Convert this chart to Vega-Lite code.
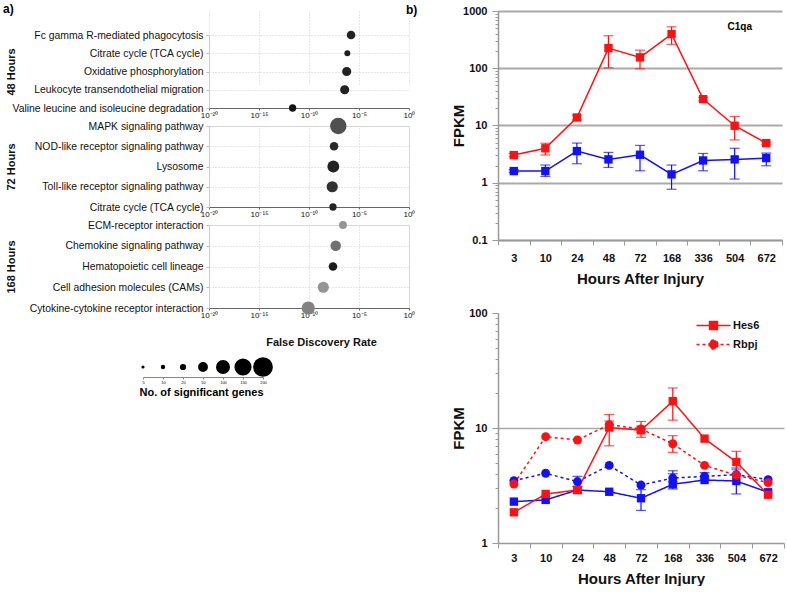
{
  "$schema": "https://vega.github.io/schema/vega-lite/v6.json",
  "padding": {"left": 3, "top": 3, "right": 2, "bottom": 0},
  "background": "white",
  "config": {
    "font": "Liberation Sans",
    "view": {"stroke": null},
    "title": {"font": "Liberation Sans", "color": "#000"}
  },
  "datasets": {
    "kegg": [
      {"timepoint": "48 Hours", "pathway": "Fc gamma R-mediated phagocytosis", "fdr": 1.6e-6, "genes": 38, "shade": 0.16},
      {"timepoint": "48 Hours", "pathway": "Citrate cycle (TCA cycle)", "fdr": 6.8e-7, "genes": 18, "shade": 0.14},
      {"timepoint": "48 Hours", "pathway": "Oxidative phosphorylation", "fdr": 5.9e-7, "genes": 43, "shade": 0.16},
      {"timepoint": "48 Hours", "pathway": "Leukocyte transendothelial migration", "fdr": 3.7e-7, "genes": 43, "shade": 0.16},
      {"timepoint": "48 Hours", "pathway": "Valine leucine and isoleucine degradation", "fdr": 2.3e-12, "genes": 27, "shade": 0.08},
      {"timepoint": "72 Hours", "pathway": "MAPK signaling pathway", "fdr": 8.5e-8, "genes": 139, "shade": 0.41},
      {"timepoint": "72 Hours", "pathway": "NOD-like receptor signaling pathway", "fdr": 3.2e-8, "genes": 38, "shade": 0.2},
      {"timepoint": "72 Hours", "pathway": "Lysosome", "fdr": 2.7e-8, "genes": 72, "shade": 0.16},
      {"timepoint": "72 Hours", "pathway": "Toll-like receptor signaling pathway", "fdr": 2.1e-8, "genes": 64, "shade": 0.25},
      {"timepoint": "72 Hours", "pathway": "Citrate cycle (TCA cycle)", "fdr": 2.5e-8, "genes": 27, "shade": 0.16},
      {"timepoint": "168 Hours", "pathway": "ECM-receptor interaction", "fdr": 2.5e-7, "genes": 32, "shade": 0.74},
      {"timepoint": "168 Hours", "pathway": "Chemokine signaling pathway", "fdr": 4.7e-8, "genes": 57, "shade": 0.57},
      {"timepoint": "168 Hours", "pathway": "Hematopoietic cell lineage", "fdr": 2.5e-8, "genes": 38, "shade": 0.12},
      {"timepoint": "168 Hours", "pathway": "Cell adhesion molecules (CAMs)", "fdr": 2.7e-9, "genes": 64, "shade": 0.74},
      {"timepoint": "168 Hours", "pathway": "Cytokine-cytokine receptor interaction", "fdr": 8.5e-11, "genes": 89, "shade": 0.65}
    ],
    "sizes": [
      {"genes": 5}, {"genes": 10}, {"genes": 20}, {"genes": 50}, {"genes": 100}, {"genes": 150}, {"genes": 200}
    ],
    "c1qa": [
      {"hour": "3", "cond": "Uninjured", "fpkm": 1.6, "lo": 1.52, "hi": 1.7},
      {"hour": "10", "cond": "Uninjured", "fpkm": 1.6, "lo": 1.29, "hi": 2.04},
      {"hour": "24", "cond": "Uninjured", "fpkm": 3.57, "lo": 2.15, "hi": 4.93},
      {"hour": "48", "cond": "Uninjured", "fpkm": 2.56, "lo": 1.85, "hi": 3.39},
      {"hour": "72", "cond": "Uninjured", "fpkm": 3.08, "lo": 1.62, "hi": 4.49},
      {"hour": "168", "cond": "Uninjured", "fpkm": 1.4, "lo": 0.77, "hi": 2.04},
      {"hour": "336", "cond": "Uninjured", "fpkm": 2.45, "lo": 1.62, "hi": 3.25},
      {"hour": "504", "cond": "Uninjured", "fpkm": 2.56, "lo": 1.16, "hi": 4.0},
      {"hour": "672", "cond": "Uninjured", "fpkm": 2.7, "lo": 1.98, "hi": 3.3},
      {"hour": "3", "cond": "Injured", "fpkm": 3.04, "lo": 2.85, "hi": 3.25},
      {"hour": "10", "cond": "Injured", "fpkm": 4.0, "lo": 3.05, "hi": 4.9},
      {"hour": "24", "cond": "Injured", "fpkm": 13.8, "lo": 12.5, "hi": 15.2},
      {"hour": "48", "cond": "Injured", "fpkm": 225, "lo": 102, "hi": 370},
      {"hour": "72", "cond": "Injured", "fpkm": 155, "lo": 98, "hi": 207},
      {"hour": "168", "cond": "Injured", "fpkm": 395, "lo": 262, "hi": 530},
      {"hour": "336", "cond": "Injured", "fpkm": 28.9, "lo": 27, "hi": 31},
      {"hour": "504", "cond": "Injured", "fpkm": 9.9, "lo": 5.6, "hi": 14.4},
      {"hour": "672", "cond": "Injured", "fpkm": 4.93, "lo": 4.7, "hi": 5.2}
    ],
    "notch": [
      {"gene": "Hes6", "cond": "Uninjured", "hour": "3", "fpkm": 2.29, "lo": null, "hi": null},
      {"gene": "Hes6", "cond": "Uninjured", "hour": "10", "fpkm": 2.37, "lo": null, "hi": null},
      {"gene": "Hes6", "cond": "Uninjured", "hour": "24", "fpkm": 2.89, "lo": null, "hi": null},
      {"gene": "Hes6", "cond": "Uninjured", "hour": "48", "fpkm": 2.79, "lo": null, "hi": null},
      {"gene": "Hes6", "cond": "Uninjured", "hour": "72", "fpkm": 2.45, "lo": 1.92, "hi": 2.91},
      {"gene": "Hes6", "cond": "Uninjured", "hour": "168", "fpkm": 3.24, "lo": 2.95, "hi": 4.25},
      {"gene": "Hes6", "cond": "Uninjured", "hour": "336", "fpkm": 3.53, "lo": null, "hi": null},
      {"gene": "Hes6", "cond": "Uninjured", "hour": "504", "fpkm": 3.46, "lo": 2.67, "hi": 4.49},
      {"gene": "Hes6", "cond": "Uninjured", "hour": "672", "fpkm": 2.76, "lo": null, "hi": null},
      {"gene": "Rbpj", "cond": "Uninjured", "hour": "3", "fpkm": 3.48, "lo": null, "hi": null},
      {"gene": "Rbpj", "cond": "Uninjured", "hour": "10", "fpkm": 4.04, "lo": null, "hi": null},
      {"gene": "Rbpj", "cond": "Uninjured", "hour": "24", "fpkm": 3.42, "lo": 3.1, "hi": 3.8},
      {"gene": "Rbpj", "cond": "Uninjured", "hour": "48", "fpkm": 4.73, "lo": null, "hi": null},
      {"gene": "Rbpj", "cond": "Uninjured", "hour": "72", "fpkm": 3.19, "lo": null, "hi": null},
      {"gene": "Rbpj", "cond": "Uninjured", "hour": "168", "fpkm": 3.67, "lo": 3.4, "hi": 4.0},
      {"gene": "Rbpj", "cond": "Uninjured", "hour": "336", "fpkm": 3.8, "lo": 3.6, "hi": 4.1},
      {"gene": "Rbpj", "cond": "Uninjured", "hour": "504", "fpkm": 3.93, "lo": null, "hi": null},
      {"gene": "Rbpj", "cond": "Uninjured", "hour": "672", "fpkm": 3.55, "lo": null, "hi": null},
      {"gene": "Hes6", "cond": "Injured", "hour": "3", "fpkm": 1.85, "lo": null, "hi": null},
      {"gene": "Hes6", "cond": "Injured", "hour": "10", "fpkm": 2.67, "lo": null, "hi": null},
      {"gene": "Hes6", "cond": "Injured", "hour": "24", "fpkm": 2.89, "lo": 2.7, "hi": 3.1},
      {"gene": "Hes6", "cond": "Injured", "hour": "48", "fpkm": 10.1, "lo": 7.0, "hi": 13.1},
      {"gene": "Hes6", "cond": "Injured", "hour": "72", "fpkm": 9.55, "lo": 8.3, "hi": 11.4},
      {"gene": "Hes6", "cond": "Injured", "hour": "168", "fpkm": 17.1, "lo": 11.7, "hi": 22.3},
      {"gene": "Hes6", "cond": "Injured", "hour": "336", "fpkm": 8.08, "lo": null, "hi": null},
      {"gene": "Hes6", "cond": "Injured", "hour": "504", "fpkm": 5.06, "lo": 4.34, "hi": 6.27},
      {"gene": "Hes6", "cond": "Injured", "hour": "672", "fpkm": 2.63, "lo": null, "hi": null},
      {"gene": "Rbpj", "cond": "Injured", "hour": "3", "fpkm": 3.26, "lo": null, "hi": null},
      {"gene": "Rbpj", "cond": "Injured", "hour": "10", "fpkm": 8.4, "lo": null, "hi": null},
      {"gene": "Rbpj", "cond": "Injured", "hour": "24", "fpkm": 7.87, "lo": null, "hi": null},
      {"gene": "Rbpj", "cond": "Injured", "hour": "48", "fpkm": 10.7, "lo": 10.0, "hi": 11.5},
      {"gene": "Rbpj", "cond": "Injured", "hour": "72", "fpkm": 9.8, "lo": 9.2, "hi": 10.4},
      {"gene": "Rbpj", "cond": "Injured", "hour": "168", "fpkm": 7.3, "lo": 6.14, "hi": 8.58},
      {"gene": "Rbpj", "cond": "Injured", "hour": "336", "fpkm": 4.73, "lo": null, "hi": null},
      {"gene": "Rbpj", "cond": "Injured", "hour": "504", "fpkm": 3.88, "lo": null, "hi": null},
      {"gene": "Rbpj", "cond": "Injured", "hour": "672", "fpkm": 3.35, "lo": null, "hi": null}
    ]
  },
  "columns": 2,
  "align": "none",
  "spacing": {"column": -10, "row": 0},
  "resolve": {"scale": {"color": "independent", "size": "independent", "shape": "independent", "strokeDash": "independent"}},
  "concat": [
    {
      "spacing": 9,
      "resolve": {"scale": {"color": "independent", "size": "independent"}},
      "vconcat": [
        {
          "spacing": 18,
          "bounds": "flush",
          "resolve": {"scale": {"color": "independent", "size": "independent"}},
          "vconcat": [
            {
              "width": 200, "height": 97,
              "title": {"text": "a)", "anchor": "start", "frame": "bounds", "fontSize": 12, "fontWeight": "bold", "offset": -5, "dx": -2},
              "data": {"name": "kegg"},
              "transform": [{"filter": "datum.timepoint === '48 Hours'"}],
              "mark": {"type": "circle", "opacity": 1},
              "encoding": {
                "x": {"field": "fdr", "type": "quantitative", "scale": {"type": "log", "domain": [1e-20, 1], "nice": false},
                  "axis": {"title": null, "values": [1e-20, 1e-15, 1e-10, 1e-5, 1], "labelExpr": "datum.value < 1e-17 ? '10⁻²⁰' : datum.value < 1e-12 ? '10⁻¹⁵' : datum.value < 1e-7 ? '10⁻¹⁰' : datum.value < 1e-2 ? '10⁻⁵' : '10⁰'", "labelFontSize": 8, "labelColor": "#111", "labelFlush": false, "labelPadding": 1, "tickSize": 2, "tickColor": "#666", "domainColor": "#666", "grid": true, "gridColor": "#cfcfcf", "gridDash": [1, 2], "labelAngle": 0}},
                "y": {"field": "pathway", "type": "nominal", "sort": null, "scale": {"type": "point", "padding": 0, "range": [24, 97]},
                  "axis": {"title": "48 Hours", "titleFontSize": 11, "titleFontWeight": "bold", "titleX": -193, "titleAngle": 270, "titleColor": "#111", "labelFontSize": 10.4, "labelColor": "#111", "labelPadding": 3, "tickSize": 3, "tickColor": "#bbb", "domainColor": "#ccc", "grid": true, "gridColor": "#cfcfcf", "gridDash": [1, 2], "labelLimit": 300}},
                "size": {"field": "genes", "type": "quantitative", "scale": {"domain": [0, 200], "range": [0, 390]}, "legend": null},
                "color": {"field": "shade", "type": "quantitative", "scale": {"domain": [0, 1], "range": ["#000000", "#d0d0d0"]}, "legend": null}
              }
            },
            {
              "width": 200, "height": 81,
              "view": {"stroke": "#dcdcdc"},
              "data": {"name": "kegg"},
              "transform": [{"filter": "datum.timepoint === '72 Hours'"}],
              "mark": {"type": "circle", "opacity": 1},
              "encoding": {
                "x": {"field": "fdr", "type": "quantitative", "scale": {"type": "log", "domain": [1e-20, 1], "nice": false},
                  "axis": {"title": null, "values": [1e-20, 1e-15, 1e-10, 1e-5, 1], "labelExpr": "datum.value < 1e-17 ? '10⁻²⁰' : datum.value < 1e-12 ? '10⁻¹⁵' : datum.value < 1e-7 ? '10⁻¹⁰' : datum.value < 1e-2 ? '10⁻⁵' : '10⁰'", "labelFontSize": 8, "labelColor": "#111", "labelFlush": false, "labelPadding": 1, "tickSize": 2, "tickColor": "#666", "domainColor": "#666", "grid": true, "gridColor": "#cfcfcf", "gridDash": [1, 2], "labelAngle": 0}},
                "y": {"field": "pathway", "type": "nominal", "sort": null, "scale": {"type": "point", "padding": 0},
                  "axis": {"title": "72 Hours", "titleFontSize": 11, "titleFontWeight": "bold", "titleX": -193, "titleAngle": 270, "titleColor": "#111", "labelFontSize": 10.4, "labelColor": "#111", "labelPadding": 3, "tickSize": 3, "tickColor": "#bbb", "domainColor": "#ccc", "grid": true, "gridColor": "#cfcfcf", "gridDash": [1, 2], "labelLimit": 300}},
                "size": {"field": "genes", "type": "quantitative", "scale": {"domain": [0, 200], "range": [0, 390]}, "legend": null},
                "color": {"field": "shade", "type": "quantitative", "scale": {"domain": [0, 1], "range": ["#000000", "#d0d0d0"]}, "legend": null}
              }
            },
            {
              "width": 200, "height": 83,
              "view": {"stroke": "#dcdcdc"},
              "data": {"name": "kegg"},
              "transform": [{"filter": "datum.timepoint === '168 Hours'"}],
              "mark": {"type": "circle", "opacity": 1},
              "encoding": {
                "x": {"field": "fdr", "type": "quantitative", "scale": {"type": "log", "domain": [1e-20, 1], "nice": false},
                  "axis": {"title": "False Discovery Rate", "titleFontSize": 11, "titleFontWeight": "bold", "titleColor": "#111", "titleX": 112, "titlePadding": 17, "values": [1e-20, 1e-15, 1e-10, 1e-5, 1], "labelExpr": "datum.value < 1e-17 ? '10⁻²⁰' : datum.value < 1e-12 ? '10⁻¹⁵' : datum.value < 1e-7 ? '10⁻¹⁰' : datum.value < 1e-2 ? '10⁻⁵' : '10⁰'", "labelFontSize": 8, "labelColor": "#111", "labelFlush": false, "labelPadding": 1, "tickSize": 2, "tickColor": "#666", "domainColor": "#666", "grid": true, "gridColor": "#cfcfcf", "gridDash": [1, 2], "labelAngle": 0}},
                "y": {"field": "pathway", "type": "nominal", "sort": null, "scale": {"type": "point", "padding": 0},
                  "axis": {"title": "168 Hours", "titleFontSize": 11, "titleFontWeight": "bold", "titleX": -193, "titleAngle": 270, "titleColor": "#111", "labelFontSize": 10.4, "labelColor": "#111", "labelPadding": 3, "tickSize": 3, "tickColor": "#bbb", "domainColor": "#ccc", "grid": true, "gridColor": "#cfcfcf", "gridDash": [1, 2], "labelLimit": 300}},
                "size": {"field": "genes", "type": "quantitative", "scale": {"domain": [0, 200], "range": [0, 390]}, "legend": null},
                "color": {"field": "shade", "type": "quantitative", "scale": {"domain": [0, 1], "range": ["#000000", "#d0d0d0"]}, "legend": null}
              }
            }
          ]
        },
        {
          "width": 120, "height": 20,
          "data": {"name": "sizes"},
          "mark": {"type": "circle", "opacity": 1, "color": "#000"},
          "encoding": {
            "x": {"field": "genes", "type": "ordinal", "sort": null, "scale": {"type": "point", "padding": 0, "range": [-66, 54]},
              "axis": {"title": "No. of significant genes", "titleFontSize": 11, "titleFontWeight": "bold", "titleColor": "#000", "titleAnchor": "start", "titlePadding": 2, "titleX": -70, "labelFontSize": 4, "labelAngle": 0, "labelPadding": 1, "tickSize": 2, "tickColor": "#888", "domainColor": "#888"}},
            "size": {"field": "genes", "type": "quantitative", "scale": {"domain": [0, 200], "range": [0, 390]}, "legend": null}
          }
        }
      ]
    },
    {
      "title": {"text": "b)", "anchor": "start", "frame": "bounds", "fontSize": 12, "fontWeight": "bold", "offset": -12, "dx": -45},
      "spacing": 21,
      "resolve": {"scale": {"shape": "independent", "strokeDash": "independent", "color": "independent"}},
      "vconcat": [
        {
          "width": 284, "height": 229,
          "title": {"text": "C1qa", "anchor": "end", "frame": "group", "fontSize": 10, "fontWeight": "bold", "offset": -27, "dx": -30},
          "data": {"name": "c1qa"},
          "encoding": {
            "x": {"field": "hour", "type": "ordinal", "sort": ["3", "10", "24", "48", "72", "168", "336", "504", "672"], "bandPosition": 0.5, "scale": {"type": "band", "paddingInner": 0, "paddingOuter": 0},
              "axis": {"title": "Hours After Injury", "titleFontSize": 15, "titleFontWeight": "bold", "titleColor": "#111", "titlePadding": 8, "labelFontSize": 11, "labelFontWeight": "bold", "labelColor": "#111", "labelAngle": 0, "labelPadding": 7, "tickBand": "extent", "tickSize": 5, "tickColor": "#999", "domainColor": "#999", "domainWidth": 1.5, "grid": false}}
          },
          "layer": [
            {
              "mark": {"type": "errorbar", "ticks": true, "size": 10, "thickness": 1.2},
              "encoding": {
                "y": {"field": "lo", "type": "quantitative", "scale": {"type": "log", "domain": [0.1, 1000], "nice": false},
                  "axis": {"title": "FPKM", "titleFontSize": 15, "titleFontWeight": "bold", "titleColor": "#111", "titleX": -32,
                    "values": [0.1, 0.2, 0.3, 0.4, 0.5, 0.6, 0.7, 0.8, 0.9, 1, 2, 3, 4, 5, 6, 7, 8, 9, 10, 20, 30, 40, 50, 60, 70, 80, 90, 100, 200, 300, 400, 500, 600, 700, 800, 900, 1000],
                    "format": "~g",
                    "labelExpr": "indexof(['0.1','1','10','100','1000'], datum.label) >= 0 ? datum.label : ''",
                    "labelFontSize": 11, "labelFontWeight": "bold", "labelColor": "#111", "labelPadding": 5,
                    "tickColor": "#999", "tickSize": {"condition": {"test": "indexof([0.1, 1, 10, 100, 1000], datum.value) >= 0", "value": 6}, "value": 3},
                    "domainColor": "#999", "domainWidth": 1.5,
                    "grid": true, "gridColor": "#aaaaaa", "gridWidth": 2,
                    "gridOpacity": {"condition": {"test": "indexof([0.1, 1, 10, 100, 1000], datum.value) >= 0", "value": 1}, "value": 0}}},
                "y2": {"field": "hi"},
                "color": {"field": "cond", "type": "nominal", "scale": {"domain": ["Injured", "Uninjured"], "range": ["#ff1111", "#1111ff"]}, "legend": null}
              }
            },
            {
              "mark": {"type": "line", "strokeWidth": 1.5},
              "encoding": {
                "y": {"field": "fpkm", "type": "quantitative"},
                "color": {"field": "cond", "type": "nominal", "legend": null}
              }
            },
            {
              "mark": {"type": "point", "shape": "square", "filled": true, "size": 70, "opacity": 1},
              "encoding": {
                "y": {"field": "fpkm", "type": "quantitative"},
                "color": {"field": "cond", "type": "nominal", "legend": null}
              }
            }
          ]
        },
        {
          "width": 286, "height": 230,
          "data": {"name": "notch"},
          "encoding": {
            "x": {"field": "hour", "type": "ordinal", "sort": ["3", "10", "24", "48", "72", "168", "336", "504", "672"], "bandPosition": 0.5, "scale": {"type": "band", "paddingInner": 0, "paddingOuter": 0, "domain": ["3", "10", "24", "48", "72", "168", "336", "504", "672"]},
              "axis": {"title": "Hours After Injury", "titleFontSize": 15, "titleFontWeight": "bold", "titleColor": "#111", "titlePadding": 8, "labelFontSize": 11, "labelFontWeight": "bold", "labelColor": "#111", "labelAngle": 0, "labelPadding": 4, "tickBand": "extent", "tickSize": 5, "tickColor": "#999", "domainColor": "#999", "domainWidth": 1.5, "grid": false}}
          },
          "layer": [
            {
              "transform": [{"filter": "datum.lo != null"}],
              "mark": {"type": "errorbar", "ticks": true, "size": 10, "thickness": 1.2},
              "encoding": {
                "y": {"field": "lo", "type": "quantitative", "scale": {"type": "log", "domain": [1, 100], "nice": false},
                  "axis": {"title": "FPKM", "titleFontSize": 15, "titleFontWeight": "bold", "titleColor": "#111", "titleX": -32,
                    "values": [1, 2, 3, 4, 5, 6, 7, 8, 9, 10, 20, 30, 40, 50, 60, 70, 80, 90, 100],
                    "format": "~g",
                    "labelExpr": "indexof(['1','10','100'], datum.label) >= 0 ? datum.label : ''",
                    "labelFontSize": 11, "labelFontWeight": "bold", "labelColor": "#111", "labelPadding": 5,
                    "tickColor": "#999", "tickSize": {"condition": {"test": "indexof([1, 10, 100], datum.value) >= 0", "value": 6}, "value": 3},
                    "domainColor": "#999", "domainWidth": 1.5,
                    "grid": true, "gridColor": "#aaaaaa", "gridWidth": 1.5,
                    "gridOpacity": {"condition": {"test": "datum.value === 10", "value": 1}, "value": 0}}},
                "y2": {"field": "hi"},
                "color": {"field": "cond", "type": "nominal", "scale": {"domain": ["Injured", "Uninjured"], "range": ["#ff1111", "#1111ff"]}, "legend": null}
              }
            },
            {
              "mark": {"type": "line", "strokeWidth": 1.5},
              "encoding": {
                "y": {"field": "fpkm", "type": "quantitative"},
                "color": {"field": "cond", "type": "nominal", "legend": null},
                "strokeDash": {"field": "gene", "type": "nominal", "scale": {"domain": ["Hes6", "Rbpj"], "range": [[1, 0], [3, 3]]},
                  "legend": {"title": null, "orient": "none", "legendX": 206, "legendY": 3, "padding": 0, "labelFontSize": 11, "labelFontWeight": "bold", "labelColor": "#111", "labelOffset": 10, "rowPadding": 2, "symbolSize": 289, "symbolStrokeWidth": 1.5, "symbolStrokeColor": "#ff1111", "symbolFillColor": "#ff1111",
                    "encode": {"symbols": {"update": {
                      "shape": {"signal": "datum.value === 'Hes6' ? 'M-2,0H2M-0.47,-0.47H0.47V0.47H-0.47Z' : 'M-2,0H2M0.53,0A0.53,0.53,0,1,1,-0.53,0A0.53,0.53,0,1,1,0.53,0'"},
                      "fill": {"value": "#ff1111"},
                      "stroke": {"value": "#ff1111"}
                    }}}}}
              }
            },
            {
              "transform": [{"filter": "datum.gene === 'Hes6'"}],
              "mark": {"type": "point", "shape": "square", "filled": true, "size": 70, "opacity": 1},
              "encoding": {
                "y": {"field": "fpkm", "type": "quantitative"},
                "color": {"field": "cond", "type": "nominal", "legend": null}
              }
            },
            {
              "transform": [{"filter": "datum.gene === 'Rbpj'"}],
              "mark": {"type": "point", "shape": "circle", "filled": true, "size": 80, "opacity": 1},
              "encoding": {
                "y": {"field": "fpkm", "type": "quantitative"},
                "color": {"field": "cond", "type": "nominal", "legend": null}
              }
            }
          ]
        }
      ]
    }
  ]
}
